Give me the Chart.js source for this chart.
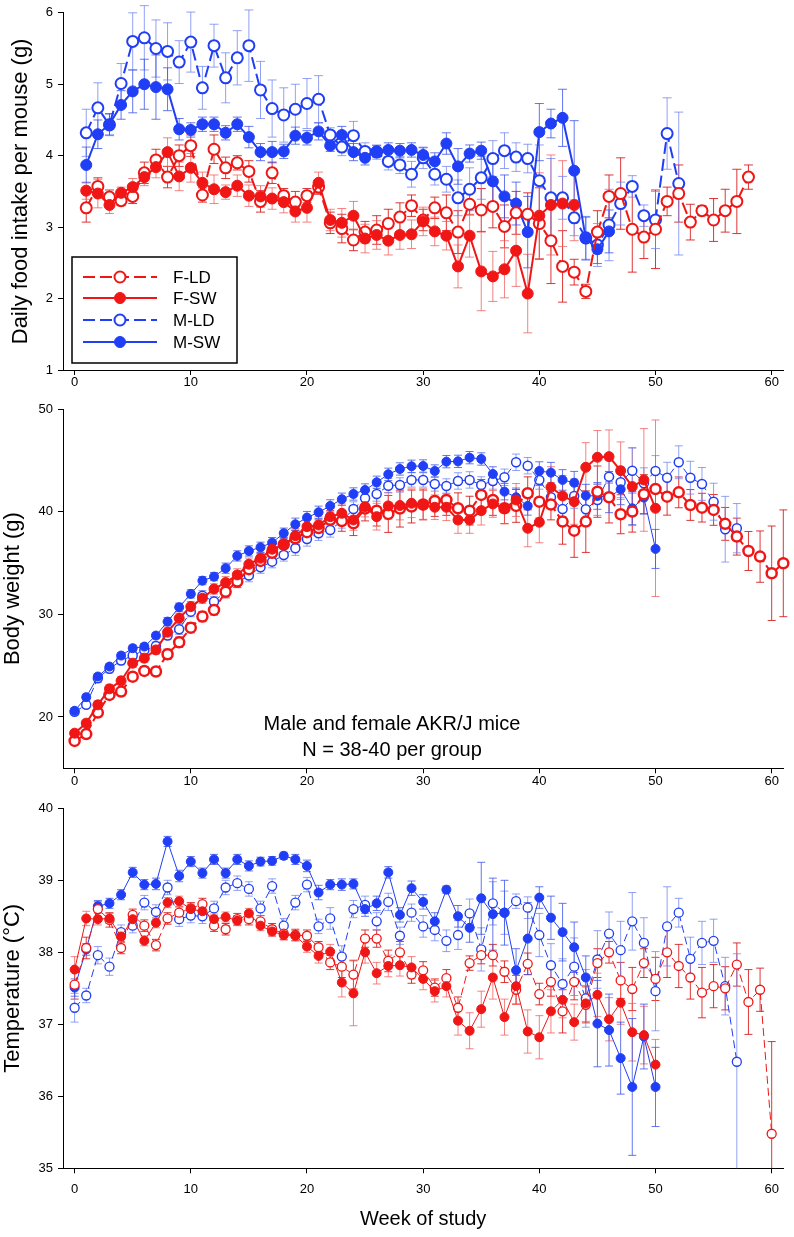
<!DOCTYPE html>
<html>
<head>
<meta charset="utf-8">
<script src="https://cdn.jsdelivr.net/npm/chart.js@4.4.0/dist/chart.umd.min.js"></script>
<style>
  body { margin: 0; background: #fff; }
  #wrap { position: relative; width: 794px; height: 1237px; background: #fff; }
  #wrap canvas { position: absolute; left: 0; }
  .note {
    position: absolute; left: 192px; top: 710px; width: 400px;
    font-family: 'Liberation Sans', Arial, sans-serif; font-size: 20px;
    line-height: 26px; text-align: center; color: #000;
  }
</style>
</head>
<body>
<div id="wrap">
  <canvas id="intake" width="794" height="395" style="top:0"></canvas>
  <canvas id="weight" width="794" height="395" style="top:395px"></canvas>
  <canvas id="temp" width="794" height="447" style="top:790px"></canvas>
  <div class="note">Male and female AKR/J mice<br>N = 38-40 per group</div>
</div>
<script>
// weeks are the array index (week 0 first), null = not measured
const xTicks = [0, 10, 20, 30, 40, 50, 60];
const intakeTicks = [1, 2, 3, 4, 5, 6];
const weightTicks = [20, 30, 40, 50];
const tempTicks = [35, 36, 37, 38, 39, 40];

// ---- daily food intake (g) ----
const intakeFLD = [null, 3.27,3.57,3.42,3.37,3.43,3.76,3.94,3.70,4.00, 4.14,3.45,4.09,3.83,3.90,3.78,3.36,3.76,3.44,3.35,
  3.44,3.56,3.06,2.98,2.82,2.93,2.96,3.05,3.14,3.30, 3.10,3.27,3.20,2.93,3.32,3.24,3.29,3.01,3.20,3.18,
  3.05,2.81,2.45,2.37,2.10,2.93,3.43,3.47,2.97,2.86, 2.97,3.36,3.47,3.07,3.23,3.10,3.23,3.36,3.70];
const intakeFLDerr = [null, 0.2,0.12,0.1,0.07,0.1,0.15,0.15,0.15,0.15, 0.15,0.1,0.2,0.15,0.1,0.15,0.15,0.15,0.1,0.15,
  0.1,0.1,0.15,0.2,0.15,0.15,0.2,0.2,0.2,0.15, 0.15,0.15,0.25,0.3,0.15,0.3,0.3,0.3,0.3,0.3,
  0.5,0.6,0.5,0.18,0.1,0.3,0.3,0.5,0.6,0.3, 0.55,0.2,0.4,0.25,0.07,0.3,0.3,0.45,0.17];
const intakeFSW = [null, 3.51,3.47,3.31,3.48,3.56,3.70,3.84,4.05,3.71, 3.83,3.62,3.53,3.49,3.58,3.44,3.43,3.40,3.35,3.22,
  3.27,3.62,3.10,3.06,3.16,2.84,2.89,2.81,2.89,2.90, 3.08,2.94,2.88,2.45,2.88,2.38,2.31,2.41,2.67,2.07,
  3.16,3.31,3.33,3.31];
const intakeFSWerr = [null, 0.12,0.2,0.12,0.08,0.12,0.12,0.15,0.2,0.2, 0.2,0.15,0.2,0.1,0.15,0.15,0.15,0.15,0.15,0.15,
  0.2,0.15,0.15,0.2,0.2,0.2,0.2,0.2,0.2,0.2, 0.2,0.2,0.2,0.3,0.3,0.55,0.35,0.4,0.5,0.55,
  0.6,0.7,0.6,0.5];
const intakeMLD = [null, 4.32,4.67,4.43,5.01,5.60,5.65,5.50,5.46,5.31, 5.59,4.95,5.54,5.09,5.37,5.54,4.92,4.66,4.57,4.65,
  4.73,4.79,4.29,4.12,4.28,4.06,4.05,3.92,3.87,3.74, 3.97,3.74,3.67,3.41,3.53,3.69,3.96,4.07,3.98,3.96,
  3.65,3.41,3.41,3.13,2.85,2.75,3.03,3.33,3.57,3.16, 3.10,4.31,3.61];
const intakeMLDerr = [null, 0.33,0.35,0.15,0.28,0.4,0.45,0.4,0.4,0.3, 0.42,0.3,0.3,0.35,0.38,0.5,0.4,0.4,0.38,0.35,
  0.35,0.33,0.1,0.12,0.2,0.12,0.1,0.12,0.12,0.18, 0.15,0.15,0.18,0.25,0.3,0.3,0.25,0.25,0.2,0.2,
  0.5,0.55,0.3,0.25,0.3,0.3,0.5,0.3,0.15,0.15, 0.4,0.5,1.0];
const intakeMSW = [null, 3.87,4.30,4.44,4.71,4.90,5.00,4.96,4.93,4.37, 4.36,4.44,4.44,4.32,4.44,4.26,4.05,4.05,4.06,4.28,
  4.25,4.34,4.14,4.29,4.05,3.97,4.06,4.08,4.07,4.08, 4.01,3.92,4.17,3.85,4.03,4.07,3.64,3.43,3.33,2.93,
  4.33,4.45,4.53,3.79,2.84,2.69,2.94];
const intakeMSWerr = [null, 0.25,0.2,0.15,0.2,0.3,0.35,0.45,0.3,0.15, 0.1,0.1,0.1,0.1,0.1,0.15,0.12,0.15,0.1,0.12,
  0.1,0.12,0.08,0.12,0.12,0.1,0.08,0.1,0.1,0.1, 0.1,0.12,0.15,0.25,0.12,0.12,0.3,0.3,0.3,0.5,
  0.4,0.2,0.4,0.7,0.3,0.2,0.3];

// ---- body weight (g) ----
const weightFLD = [17.67,18.33,20.43,22.15,22.47,23.93,24.49,24.43,26.11,27.28, 28.70,29.78,30.43,32.2,33.2,34.4,35.2,36.0,36.8,37.4,
  38.0,38.4,39.2,39.09,38.87,40.3,40.1,39.78,40.3,40.5, 40.7,41.04,41.14,40.33,40.1,41.63,41.14,40.33,40.56,41.79,
  40.97,40.7,39.03,38.15,39.03,41.95,41.4,39.75,40.01,41.7, 42.21,41.46,41.88,40.65,40.39,40.17,38.81,37.57,36.17,35.62,
  34.0,34.97];
const weightFLDerr = [0.3,0.3,0.4,0.4,0.4,0.4,0.4,0.4,0.5,0.5, 0.5,0.5,0.5,0.6,0.6,0.6,0.7,0.7,0.7,0.8,
  0.8,0.8,0.9,1.0,1.2,1.2,1.5,1.8,1.8,1.6, 1.5,1.5,1.5,1.5,1.4,1.5,1.5,1.5,1.6,1.6,
  1.6,1.5,2.2,2.6,3.0,2.5,2.5,1.9,2.0,1.9, 1.8,1.8,1.5,1.5,1.4,1.5,1.6,1.8,1.9,2.5,
  4.6,5.2];
const weightFSW = [18.42,19.40,21.18,22.74,23.52,25.24,25.73,26.53,28.26,29.62, 30.75,31.57,32.47,33.09,33.84,34.88,35.46,36.34,36.76,37.66,
  38.54,38.70,39.51,39.84,39.19,40.49,39.51,40.56,40.6,40.82, 40.65,40.43,40.43,39.19,39.19,40.10,40.75,40.33,41.14,38.38,
  38.97,42.38,41.53,40.97,44.32,45.30,45.36,43.99,42.44,43.09, 40.33];
const weightFSWerr = [0.3,0.3,0.4,0.4,0.4,0.4,0.4,0.4,0.5,0.5, 0.5,0.5,0.5,0.6,0.6,0.6,0.6,0.7,0.7,0.7,
  0.7,0.8,0.8,0.9,1.0,1.0,1.3,1.3,1.4,1.4, 1.4,1.2,1.3,1.3,1.3,1.4,1.3,1.5,1.6,1.8,
  2.0,2.0,2.0,2.2,2.4,2.6,2.6,2.8,3.8,5.0, 8.6];
const weightMLD = [20.5,21.18,23.78,24.7,25.49,25.98,26.5,26.92,27.93,28.55, 30.26,31.82,31.24,32.21,33.12,33.77,34.59,35.13,35.78,36.44,
  37.34,37.90,38.22,39.09,40.26,41.30,41.72,42.53,42.6,43.09, 43.09,42.70,42.50,42.99,43.09,42.6,42.99,43.35,44.81,44.48,
  43.09,41.40,40.26,41.53,40.23,41.14,43.41,42.86,43.99,42.77, 43.96,43.31,44.81,43.31,42.70,40.97,38.29,38.39];
const weightMLDerr = [0.3,0.3,0.4,0.4,0.4,0.4,0.4,0.4,0.4,0.5, 0.5,0.5,0.5,0.5,0.5,0.6,0.6,0.6,0.6,0.7,
  0.7,0.7,0.7,0.7,0.7,0.7,0.7,0.7,0.7,0.7, 0.7,0.7,0.7,0.8,0.8,0.8,0.8,0.8,0.8,0.8,
  0.9,1.0,1.0,1.2,1.2,1.5,1.6,1.5,2.2,1.5, 1.5,1.5,1.6,1.6,1.6,1.8,3.2,2.4];
const weightMSW = [20.6,21.93,23.94,24.91,25.98,26.70,26.86,27.93,29.29,30.69, 31.99,33.28,33.67,34.49,35.69,36.17,36.53,36.98,37.90,38.77,
  39.42,39.94,40.56,41.21,41.72,42.11,42.86,43.64,44.16,44.42, 44.45,43.96,44.87,44.9,45.26,45.13,43.67,41.95,41.40,40.56,
  43.96,43.80,43.09,42.82,41.56,41.53,41.40,42.18,40.33,41.37, 36.37];
const weightMSWerr = [0.3,0.3,0.3,0.3,0.3,0.3,0.3,0.3,0.4,0.4, 0.4,0.4,0.4,0.5,0.5,0.5,0.5,0.5,0.5,0.6,
  0.6,0.6,0.6,0.6,0.6,0.6,0.6,0.6,0.6,0.6, 0.6,0.6,0.6,0.6,0.6,0.6,0.7,0.8,0.9,0.9,
  0.9,1.0,1.0,1.1,1.1,1.3,1.5,1.5,1.6,1.6, 1.9];

// ---- body temperature (°C) ----
const tempFLD = [37.55,38.06,38.6,38.45,38.06,38.52,38.37,38.10,38.47,38.55, 38.61,38.67,38.37,38.32,38.46,38.46,38.43,38.32,38.26,38.24,
  38.23,38.07,37.86,37.8,37.69,38.19,38.19,37.88,38.0,37.69, 37.75,37.51,37.64,37.23,37.85,37.96,37.96,37.73,37.48,37.84,
  37.42,37.59,37.18,37.59,37.27,37.85,38.0,37.61,37.49,37.85, 37.63,38.0,37.81,37.65,37.44,37.53,37.50,37.83,37.31,37.48,
  35.48];
const tempFLDerr = [0.2,0.15,0.1,0.1,0.08,0.08,0.08,0.08,0.08,0.08, 0.08,0.08,0.08,0.08,0.08,0.08,0.08,0.08,0.08,0.08,
  0.08,0.08,0.1,0.15,0.2,0.12,0.12,0.15,0.15,0.12, 0.12,0.12,0.12,0.15,0.1,0.12,0.15,0.15,0.2,0.15,
  0.15,0.2,0.3,0.25,0.25,0.2,0.15,0.25,0.3,0.2, 0.3,0.35,0.3,0.3,0.35,0.3,0.3,0.3,0.45,0.3,
  1.28];
const tempFSW = [37.76,38.47,38.46,38.47,38.22,38.46,38.16,38.41,38.69,38.71, 38.60,38.57,38.46,38.49,38.44,38.54,38.37,38.29,38.24,38.23,
  38.08,37.95,38.01,37.58,37.43,38.0,37.71,37.81,37.82,37.79, 37.63,37.46,37.53,37.05,36.91,37.21,37.65,37.10,37.53,36.90,
  36.82,37.18,37.34,37.03,37.29,37.41,37.07,37.30,36.89,36.85, 36.44];
const tempFSWerr = [0.18,0.1,0.08,0.07,0.07,0.07,0.07,0.07,0.07,0.07, 0.07,0.07,0.07,0.07,0.07,0.07,0.07,0.07,0.07,0.07,
  0.08,0.1,0.1,0.2,0.45,0.15,0.15,0.15,0.15,0.15, 0.15,0.15,0.15,0.2,0.25,0.25,0.3,0.25,0.25,0.3,
  0.3,0.3,0.25,0.25,0.25,0.3,0.3,0.3,0.4,0.4, 0.35];
const tempMLD = [37.23,37.40,37.96,37.80,38.28,38.37,38.69,38.56,38.90,38.46, 38.51,38.50,38.61,38.90,38.96,38.88,38.61,38.92,38.37,38.69,
  38.94,38.36,38.47,37.94,38.60,38.66,38.43,38.70,38.23,38.55, 38.36,38.31,38.16,38.24,38.54,38.04,38.68,38.55,38.71,38.62,
  38.24,37.82,37.56,37.80,37.36,37.9,38.26,38.03,38.43,38.13, 37.46,38.36,38.55,37.91,38.13,38.16,37.53,36.48];
const tempMLDerr = [0.2,0.1,0.12,0.12,0.1,0.1,0.1,0.1,0.1,0.1, 0.1,0.1,0.1,0.1,0.1,0.1,0.1,0.1,0.1,0.1,
  0.1,0.1,0.15,0.15,0.12,0.12,0.12,0.12,0.12,0.12, 0.15,0.15,0.15,0.2,0.2,0.3,0.3,0.3,0.1,0.15,
  0.3,0.3,0.35,0.4,0.4,0.4,0.3,0.4,0.4,0.35, 0.55,0.55,0.2,0.3,0.3,0.3,0.4,1.5];
const tempMSW = [37.51,38.04,38.64,38.68,38.80,39.11,38.94,38.95,39.54,39.06, 39.26,39.10,39.29,39.10,39.29,39.20,39.26,39.27,39.34,39.29,
  39.20,38.83,38.94,38.94,38.95,38.60,38.68,39.11,38.52,38.89, 38.70,38.43,38.87,38.50,38.34,38.75,38.53,38.55,37.75,38.19,
  38.76,38.48,38.28,38.07,37.65,37.01,36.92,36.53,36.13,36.83, 36.13];
const tempMSWerr = [0.12,0.08,0.08,0.07,0.07,0.07,0.07,0.08,0.07,0.08, 0.07,0.07,0.07,0.07,0.07,0.07,0.06,0.06,0.05,0.07,
  0.08,0.1,0.07,0.08,0.07,0.1,0.1,0.08,0.1,0.1, 0.1,0.12,0.05,0.15,0.2,0.5,0.5,0.45,0.3,0.5,
  0.15,0.3,0.4,0.35,0.3,0.6,0.5,0.5,0.95,0.45, 0.55];

const legendOrder = ['F-LD', 'F-SW', 'M-LD', 'M-SW'];

const RED = 'rgb(240,22,22)';
const BLUE = 'rgb(32,62,245)';

Chart.defaults.font.family = "'Liberation Sans', Arial, Helvetica, sans-serif";
Chart.defaults.color = '#000';
Chart.defaults.animation = false;

// mean +/- SEM bars, drawn under the markers
const errorBars = {
  id: 'errorBars',
  beforeDatasetsDraw(chart) {
    const ctx = chart.ctx, ys = chart.scales.y, area = chart.chartArea;
    ctx.save();
    ctx.beginPath();
    ctx.rect(0, 0, chart.width, area.bottom);
    ctx.clip();
    chart.data.datasets.forEach((ds, i) => {
      const meta = chart.getDatasetMeta(i);
      ctx.strokeStyle = ds.errColor;
      ctx.lineWidth = ds.errWidth;
      meta.data.forEach((pt, j) => {
        const e = ds.errors[j];
        if (e == null) return;
        const v = ds.data[j].y;
        const top = ys.getPixelForValue(v + e);
        const bot = ys.getPixelForValue(v - e);
        const c = ds.capHalf;
        ctx.beginPath();
        ctx.moveTo(pt.x, top); ctx.lineTo(pt.x, bot);
        ctx.moveTo(pt.x - c, top); ctx.lineTo(pt.x + c, top);
        ctx.moveTo(pt.x - c, bot); ctx.lineTo(pt.x + c, bot);
        ctx.stroke();
      });
    });
    ctx.restore();
  }
};

// boxed legend with line + marker samples (top panel only)
const legendBox = {
  id: 'legendBox',
  afterDraw(chart) {
    const ctx = chart.ctx;
    ctx.save();
    ctx.lineWidth = 1.5;
    ctx.strokeStyle = '#000';
    ctx.strokeRect(72, 257, 165, 106);
    const rows = [277, 298, 320, 342];
    legendOrder.forEach((name, k) => {
      const ds = chart.data.datasets.find(d => d.label === name);
      const y = rows[k];
      ctx.setLineDash(ds.borderDash);
      ctx.strokeStyle = ds.borderColor;
      ctx.lineWidth = ds.borderWidth;
      ctx.beginPath(); ctx.moveTo(83, y); ctx.lineTo(157, y); ctx.stroke();
      ctx.setLineDash([]);
      ctx.beginPath();
      ctx.arc(120, y, ds.pointRadius, 0, Math.PI * 2);
      ctx.fillStyle = ds.pointBackgroundColor;
      ctx.fill();
      ctx.lineWidth = ds.pointBorderWidth;
      ctx.stroke();
      ctx.fillStyle = '#000';
      ctx.font = "17px 'Liberation Sans', Arial, sans-serif";
      ctx.textBaseline = 'middle';
      ctx.fillText(name, 173, y + 1);
    });
    ctx.restore();
  }
};

function series(label, means, errs, st) {
  const data = [], errors = [];
  means.forEach((v, w) => {
    if (v !== null) { data.push({ x: w, y: v }); errors.push(errs[w]); }
  });
  return {
    label, data, errors, order: st.order,
    borderColor: st.color, borderWidth: st.lineWidth, borderDash: st.dash || [],
    pointRadius: st.radius, pointHoverRadius: st.radius,
    pointBackgroundColor: st.open ? '#fff' : st.color,
    pointBorderColor: st.color, pointBorderWidth: st.pointBorder,
    errColor: st.errColor, errWidth: st.errWidth || 1, capHalf: st.cap || 4,
    tension: 0, fill: false, clip: false
  };
}

function scalesFor(o) {
  const tickGrid = { drawOnChartArea: false, drawTicks: true, tickLength: 5, tickColor: '#000', tickWidth: 1 };
  return {
    x: {
      type: 'linear', min: -1, max: 61,
      afterBuildTicks: s => { s.ticks = xTicks.map(v => ({ value: v })); },
      afterFit: s => { s.height = o.xHeight; },
      grid: tickGrid,
      border: { display: true, color: '#000', width: 1 },
      ticks: { font: { size: 13 }, padding: o.xPad, color: '#000', maxRotation: 0 },
      title: o.xTitle
        ? { display: true, text: o.xTitle, font: { size: 20 }, color: '#000', padding: { top: 0, bottom: 6 } }
        : { display: false }
    },
    y: {
      type: 'linear', min: o.ymin, max: o.ymax,
      afterBuildTicks: s => { s.ticks = o.yTicks.map(v => ({ value: v })); },
      afterFit: s => { s.width = 63; },
      grid: tickGrid,
      border: { display: true, color: '#000', width: 1 },
      ticks: { font: { size: 13 }, padding: 5, color: '#000' },
      title: { display: true, text: o.yTitle, font: { size: 22 }, color: '#000', padding: { top: o.yTitlePad, bottom: 0 } }
    }
  };
}

function makeChart(id, datasets, o, plugins) {
  return new Chart(document.getElementById(id), {
    type: 'line',
    data: { datasets },
    options: {
      responsive: false,
      devicePixelRatio: 1,
      layout: { padding: { left: 0, right: 10.7, top: o.padTop, bottom: 0 } },
      plugins: { legend: { display: false }, tooltip: { enabled: false } },
      scales: scalesFor(o)
    },
    plugins: [errorBars].concat(plugins || [])
  });
}

// top panel: food intake
makeChart('intake', [
  series('F-LD', intakeFLD, intakeFLDerr, { color: RED, open: true, dash: [12, 5], lineWidth: 2, radius: 5.5, pointBorder: 2, errColor: 'rgba(215,20,20,0.85)', cap: 4.5, order: 2 }),
  series('F-SW', intakeFSW, intakeFSWerr, { color: RED, open: false, lineWidth: 2, radius: 5.5, pointBorder: 1, errColor: 'rgba(240,90,90,0.75)', cap: 4.5, order: 1 }),
  series('M-LD', intakeMLD, intakeMLDerr, { color: BLUE, open: true, dash: [12, 5], lineWidth: 2, radius: 5.5, pointBorder: 2, errColor: 'rgba(110,130,240,0.75)', cap: 4.5, order: 4 }),
  series('M-SW', intakeMSW, intakeMSWerr, { color: BLUE, open: false, lineWidth: 2, radius: 5.5, pointBorder: 1, errColor: 'rgba(60,85,235,0.8)', cap: 4.5, order: 3 })
], { ymin: 1, ymax: 6, yTicks: intakeTicks, yTitle: 'Daily food intake per mouse (g)', yTitlePad: 8,
     padTop: 10.7, xHeight: 25, xPad: 0 }, [legendBox]);

// middle panel: body weight
makeChart('weight', [
  series('F-LD', weightFLD, weightFLDerr, { color: RED, open: true, dash: [10, 4], lineWidth: 2, radius: 5, pointBorder: 2.5, errColor: 'rgba(215,20,20,0.85)', cap: 4, order: 2 }),
  series('F-SW', weightFSW, weightFSWerr, { color: RED, open: false, lineWidth: 2, radius: 5, pointBorder: 1, errColor: 'rgba(240,90,90,0.75)', cap: 4, order: 1 }),
  series('M-LD', weightMLD, weightMLDerr, { color: BLUE, open: true, dash: [8, 4], lineWidth: 1, radius: 4.5, pointBorder: 1.5, errColor: 'rgba(110,130,240,0.75)', cap: 4, order: 4 }),
  series('M-SW', weightMSW, weightMSWerr, { color: BLUE, open: false, lineWidth: 1, radius: 4.5, pointBorder: 1, errColor: 'rgba(60,85,235,0.8)', cap: 4, order: 3 })
], { ymin: 15, ymax: 50, yTicks: weightTicks, yTitle: 'Body weight (g)', yTitlePad: 0,
     padTop: 14, xHeight: 21.7, xPad: 0 });

// bottom panel: body temperature
makeChart('temp', [
  series('F-LD', tempFLD, tempFLDerr, { color: RED, open: true, dash: [8, 4], lineWidth: 1, radius: 4.5, pointBorder: 1.3, errColor: 'rgba(215,20,20,0.85)', cap: 4, order: 2 }),
  series('F-SW', tempFSW, tempFSWerr, { color: RED, open: false, lineWidth: 1, radius: 4.5, pointBorder: 1, errColor: 'rgba(240,90,90,0.75)', cap: 4, order: 1 }),
  series('M-LD', tempMLD, tempMLDerr, { color: BLUE, open: true, dash: [8, 4], lineWidth: 1, radius: 4.5, pointBorder: 1.3, errColor: 'rgba(110,130,240,0.75)', cap: 4, order: 4 }),
  series('M-SW', tempMSW, tempMSWerr, { color: BLUE, open: false, lineWidth: 1, radius: 4.5, pointBorder: 1, errColor: 'rgba(60,85,235,0.8)', cap: 4, order: 3 })
], { ymin: 35, ymax: 40, yTicks: tempTicks, yTitle: 'Temperature (°C)', yTitlePad: 0,
     padTop: 18.3, xHeight: 68.7, xPad: 8, xTitle: 'Week of study' });
</script>
</body>
</html>
